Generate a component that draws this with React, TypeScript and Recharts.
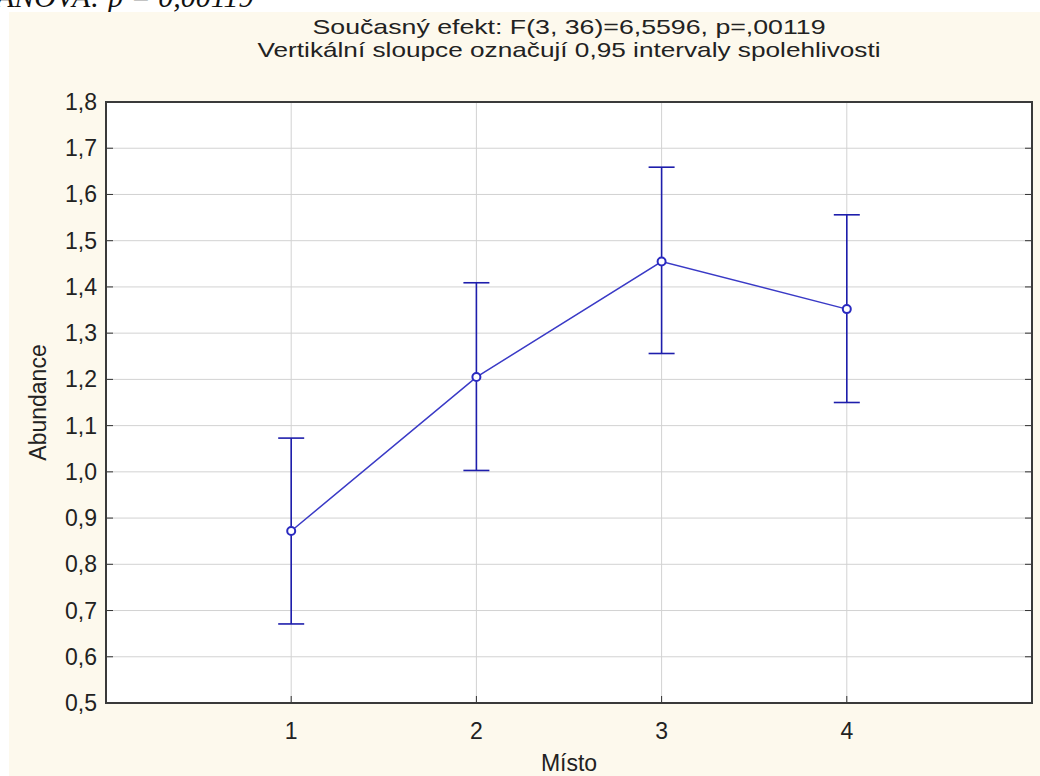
import React from "react";
import { ComposedChart, Line, ErrorBar, XAxis, YAxis, CartesianGrid } from "recharts";

// Místo (site) categories and mean abundance with 0,95 confidence limits
const places = [1, 2, 3, 4];
const means = [0.872, 1.205, 1.455, 1.352];
const lower = [0.671, 1.003, 1.256, 1.15];
const upper = [1.073, 1.409, 1.659, 1.556];

const yTicks = [0.5, 0.6, 0.7, 0.8, 0.9, 1.0, 1.1, 1.2, 1.3, 1.4, 1.5, 1.6, 1.7, 1.8];
const xTicks = [1, 2, 3, 4];

const titleLines = [
  "Současný efekt: F(3, 36)=6,5596, p=,00119",
  "Vertikální sloupce označují 0,95 intervaly spolehlivosti",
];

const data = places.map((p, i) => ({
  misto: p,
  abundance: means[i],
  ci: [means[i] - lower[i], upper[i] - means[i]],
}));

const W = 1031;
const H = 764;
const PLOT_L = 97;
const PLOT_R = 1023;
const PLOT_T = 90;
const PLOT_B = 691;
const FONT = "'Liberation Sans', Arial, sans-serif";
const TXT = "#222";

const fmt = (v: number) => v.toFixed(1).replace(".", ",");

function YTick({ y, payload }: any) {
  return (
    <g>
      <line x1={PLOT_L} x2={PLOT_L + 7} y1={y} y2={y} stroke="#333" />
      <line x1={PLOT_R - 7} x2={PLOT_R} y1={y} y2={y} stroke="#333" />
      <text x={PLOT_L - 9} y={y} dy={8} textAnchor="end" fontSize={23} fontFamily={FONT} fill={TXT}>
        {fmt(payload.value)}
      </text>
    </g>
  );
}

function XTick({ x, payload }: any) {
  return (
    <g>
      <line x1={x} x2={x} y1={PLOT_B - 7} y2={PLOT_B} stroke="#333" />
      <text x={x} y={727} textAnchor="middle" fontSize={23} fontFamily={FONT} fill={TXT}>
        {payload.value}
      </text>
    </g>
  );
}

export default function App() {
  const cx = (PLOT_L + PLOT_R) / 2;
  return (
    <div style={{ position: "absolute", left: 0, top: 0, width: 1040, height: 776, background: "#fff", overflow: "hidden" }}>
      <svg width={1040} height={14} style={{ position: "absolute", left: 0, top: 0 }}>
        <text
          x={-4}
          y={7}
          fontFamily="'Liberation Serif', 'Times New Roman', serif"
          fontStyle="italic"
          fontSize={30}
          fill="#111"
        >
          ANOVA: p = 0,00119
        </text>
      </svg>
      <div style={{ position: "absolute", left: 9, top: 12, width: W, height: H, background: "#fdf9ed" }}>
        <ComposedChart width={W} height={H} data={data} margin={{ top: PLOT_T, right: W - PLOT_R, bottom: 23, left: 17 }}>
          <CartesianGrid stroke="#d2d2d2" fill="#fff" />
          <XAxis
            dataKey="misto"
            type="number"
            domain={[0, 5]}
            ticks={xTicks}
            height={50}
            axisLine={false}
            tickLine={false}
            tick={<XTick />}
          />
          <YAxis
            type="number"
            domain={[0.5, 1.8]}
            ticks={yTicks}
            interval={0}
            width={80}
            axisLine={false}
            tickLine={false}
            tick={<YTick />}
          />
          <Line
            dataKey="abundance"
            stroke="#3a3ac6"
            strokeWidth={1.5}
            dot={{ r: 4, stroke: "#2a2ac0", strokeWidth: 2, fill: "#fff" }}
            activeDot={false}
            isAnimationActive={false}
          >
            <ErrorBar dataKey="ci" width={13} stroke="#1e1eac" strokeWidth={1.6} direction="y" />
          </Line>
        </ComposedChart>
        <svg width={W} height={H} style={{ position: "absolute", left: 0, top: 0, pointerEvents: "none" }}>
          <rect x={PLOT_L} y={PLOT_T} width={PLOT_R - PLOT_L} height={PLOT_B - PLOT_T} fill="none" stroke="#3a3a3a" strokeWidth={2} />
          <text x={cx} y={22} textAnchor="middle" fontSize={21} fontFamily={FONT} fill={TXT} textLength={513} lengthAdjust="spacingAndGlyphs">
            {titleLines[0]}
          </text>
          <text x={cx} y={45} textAnchor="middle" fontSize={21} fontFamily={FONT} fill={TXT} textLength={623} lengthAdjust="spacingAndGlyphs">
            {titleLines[1]}
          </text>
          <text x={cx} y={759} textAnchor="middle" fontSize={23} fontFamily={FONT} fill={TXT}>
            Místo
          </text>
          <text
            x={0}
            y={0}
            transform={`translate(37 ${(PLOT_T + PLOT_B) / 2}) rotate(-90)`}
            textAnchor="middle"
            fontSize={23}
            fontFamily={FONT}
            fill={TXT}
          >
            Abundance
          </text>
        </svg>
      </div>
    </div>
  );
}
